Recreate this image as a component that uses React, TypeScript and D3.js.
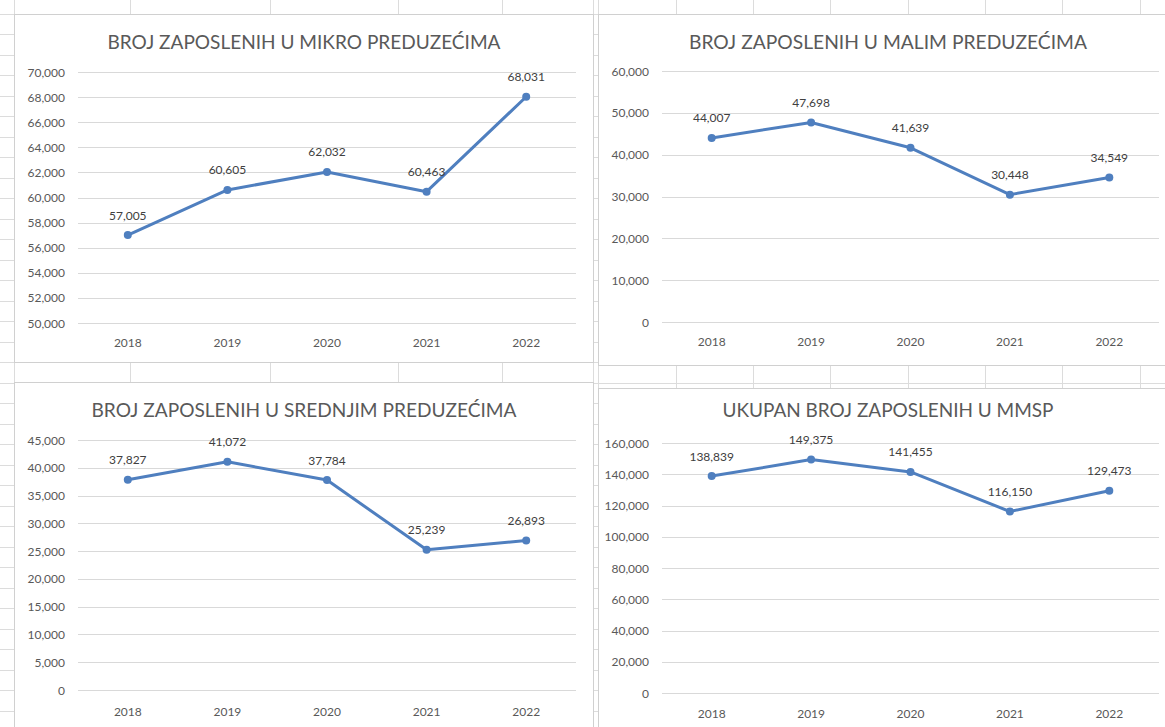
import React from "react";
import * as d3 from "d3";

const years = ["2018", "2019", "2020", "2021", "2022"];
const mikro = [57005, 60605, 62032, 60463, 68031];
const mali = [44007, 47698, 41639, 30448, 34549];
const srednji = [37827, 41072, 37784, 25239, 26893];
const ukupno = [138839, 149375, 141455, 116150, 129473];

const titles = [
  "BROJ ZAPOSLENIH U MIKRO PREDUZEĆIMA",
  "BROJ ZAPOSLENIH U MALIM PREDUZEĆIMA",
  "BROJ ZAPOSLENIH U SREDNJIM PREDUZEĆIMA",
  "UKUPAN BROJ ZAPOSLENIH U MMSP",
];
const yDomains: [number, number][] = [
  [50000, 70000],
  [0, 60000],
  [0, 45000],
  [0, 160000],
];
const yTickSteps = [2000, 10000, 5000, 20000];

const W = 1165;
const H = 727;
const FONT = "Lato, 'Open Sans', sans-serif";
const LINE = "#4f7fbf";
const TXT = "#595959";

// panel layouts
const panels = [
  { bx: 14, by: 14, bw: 579, bh: 348, x0: 78, x1: 576, yTop: 72, yBot: 323, tx: 304, ty: 42, xl: 342, tw: 393 },
  { bx: 598, by: 14, bw: 580, bh: 351, x0: 662, x1: 1159, yTop: 71, yBot: 322, tx: 888, ty: 42, xl: 341, tw: 398 },
  { bx: 14, by: 382, bw: 579, bh: 360, x0: 78, x1: 576, yTop: 440, yBot: 690, tx: 304, ty: 410, xl: 711, tw: 425 },
  { bx: 598, by: 388, bw: 580, bh: 360, x0: 662, x1: 1159, yTop: 443, yBot: 693, tx: 888, ty: 410, xl: 713, tw: 331 },
];
const series = [mikro, mali, srednji, ukupno];

const colLines = [14, 130, 270, 398, 502, 593, 598, 676, 753, 830, 908, 985, 1062, 1140];
const rowLines = d3.range(0, 36).map((k) => 13.5 + k * 20.5);

const fmt = d3.format(",");

function Panel({ i }: { i: number }) {
  const p = panels[i];
  const data = series[i];
  const [lo, hi] = yDomains[i];
  const y = d3.scaleLinear().domain([lo, hi]).range([p.yBot, p.yTop]);
  const x = d3.scaleBand().domain(years).range([p.x0, p.x1]);
  const ticks = d3.range(lo, hi + 1, yTickSteps[i]);
  const cx = (k: number) => (x(years[k]) as number) + x.bandwidth() / 2;
  const line = d3
    .line<number>()
    .x((_, k) => cx(k))
    .y((d) => y(d));
  return (
    <g>
      <rect x={p.bx + 0.5} y={p.by + 0.5} width={p.bw} height={p.bh} fill="#fff" stroke="#d0d0d0" strokeWidth={1} />
      <text
        x={p.tx}
        y={p.ty}
        textAnchor="middle"
        dominantBaseline="central"
        fontSize={18.5}
        fill={TXT}
        fontFamily={FONT}
        textLength={p.tw}
        lengthAdjust="spacingAndGlyphs"
      >
        {titles[i]}
      </text>
      {ticks.map((t) => (
        <g key={t}>
          <line x1={p.x0} x2={p.x1} y1={Math.round(y(t)) + 0.5} y2={Math.round(y(t)) + 0.5} stroke="#d9d9d9" strokeWidth={1} />
          <text x={p.x0 - 13} y={y(t)} textAnchor="end" dominantBaseline="central" fontSize={12} fill={TXT} fontFamily={FONT}>
            {fmt(t)}
          </text>
        </g>
      ))}
      {years.map((yr, k) => (
        <text key={yr} x={cx(k)} y={p.xl} textAnchor="middle" dominantBaseline="central" fontSize={12} fill={TXT} fontFamily={FONT}>
          {yr}
        </text>
      ))}
      <path d={line(data) || ""} fill="none" stroke={LINE} strokeWidth={3} strokeLinejoin="round" strokeLinecap="round" />
      {data.map((v, k) => (
        <g key={k}>
          <circle cx={cx(k)} cy={y(v)} r={4} fill={LINE} />
          <text x={cx(k)} y={y(v) - 20} textAnchor="middle" dominantBaseline="central" fontSize={12} fill="#404040" fontFamily={FONT}>
            {fmt(v)}
          </text>
        </g>
      ))}
    </g>
  );
}

export default function App() {
  return (
    <svg width={W} height={H} style={{ position: "absolute", left: 0, top: 0, background: "#fff" }}>
      <rect x={0} y={0} width={W} height={H} fill="#fff" />
      {colLines.map((cx) => (
        <line key={"c" + cx} x1={cx + 0.5} x2={cx + 0.5} y1={0} y2={H} stroke="#dcdcdc" strokeWidth={1} />
      ))}
      {rowLines.map((ry) => (
        <line key={"r" + ry} x1={0} x2={W} y1={Math.round(ry) + 0.5} y2={Math.round(ry) + 0.5} stroke="#dcdcdc" strokeWidth={1} />
      ))}
      {panels.map((_, i) => (
        <Panel key={i} i={i} />
      ))}
    </svg>
  );
}
